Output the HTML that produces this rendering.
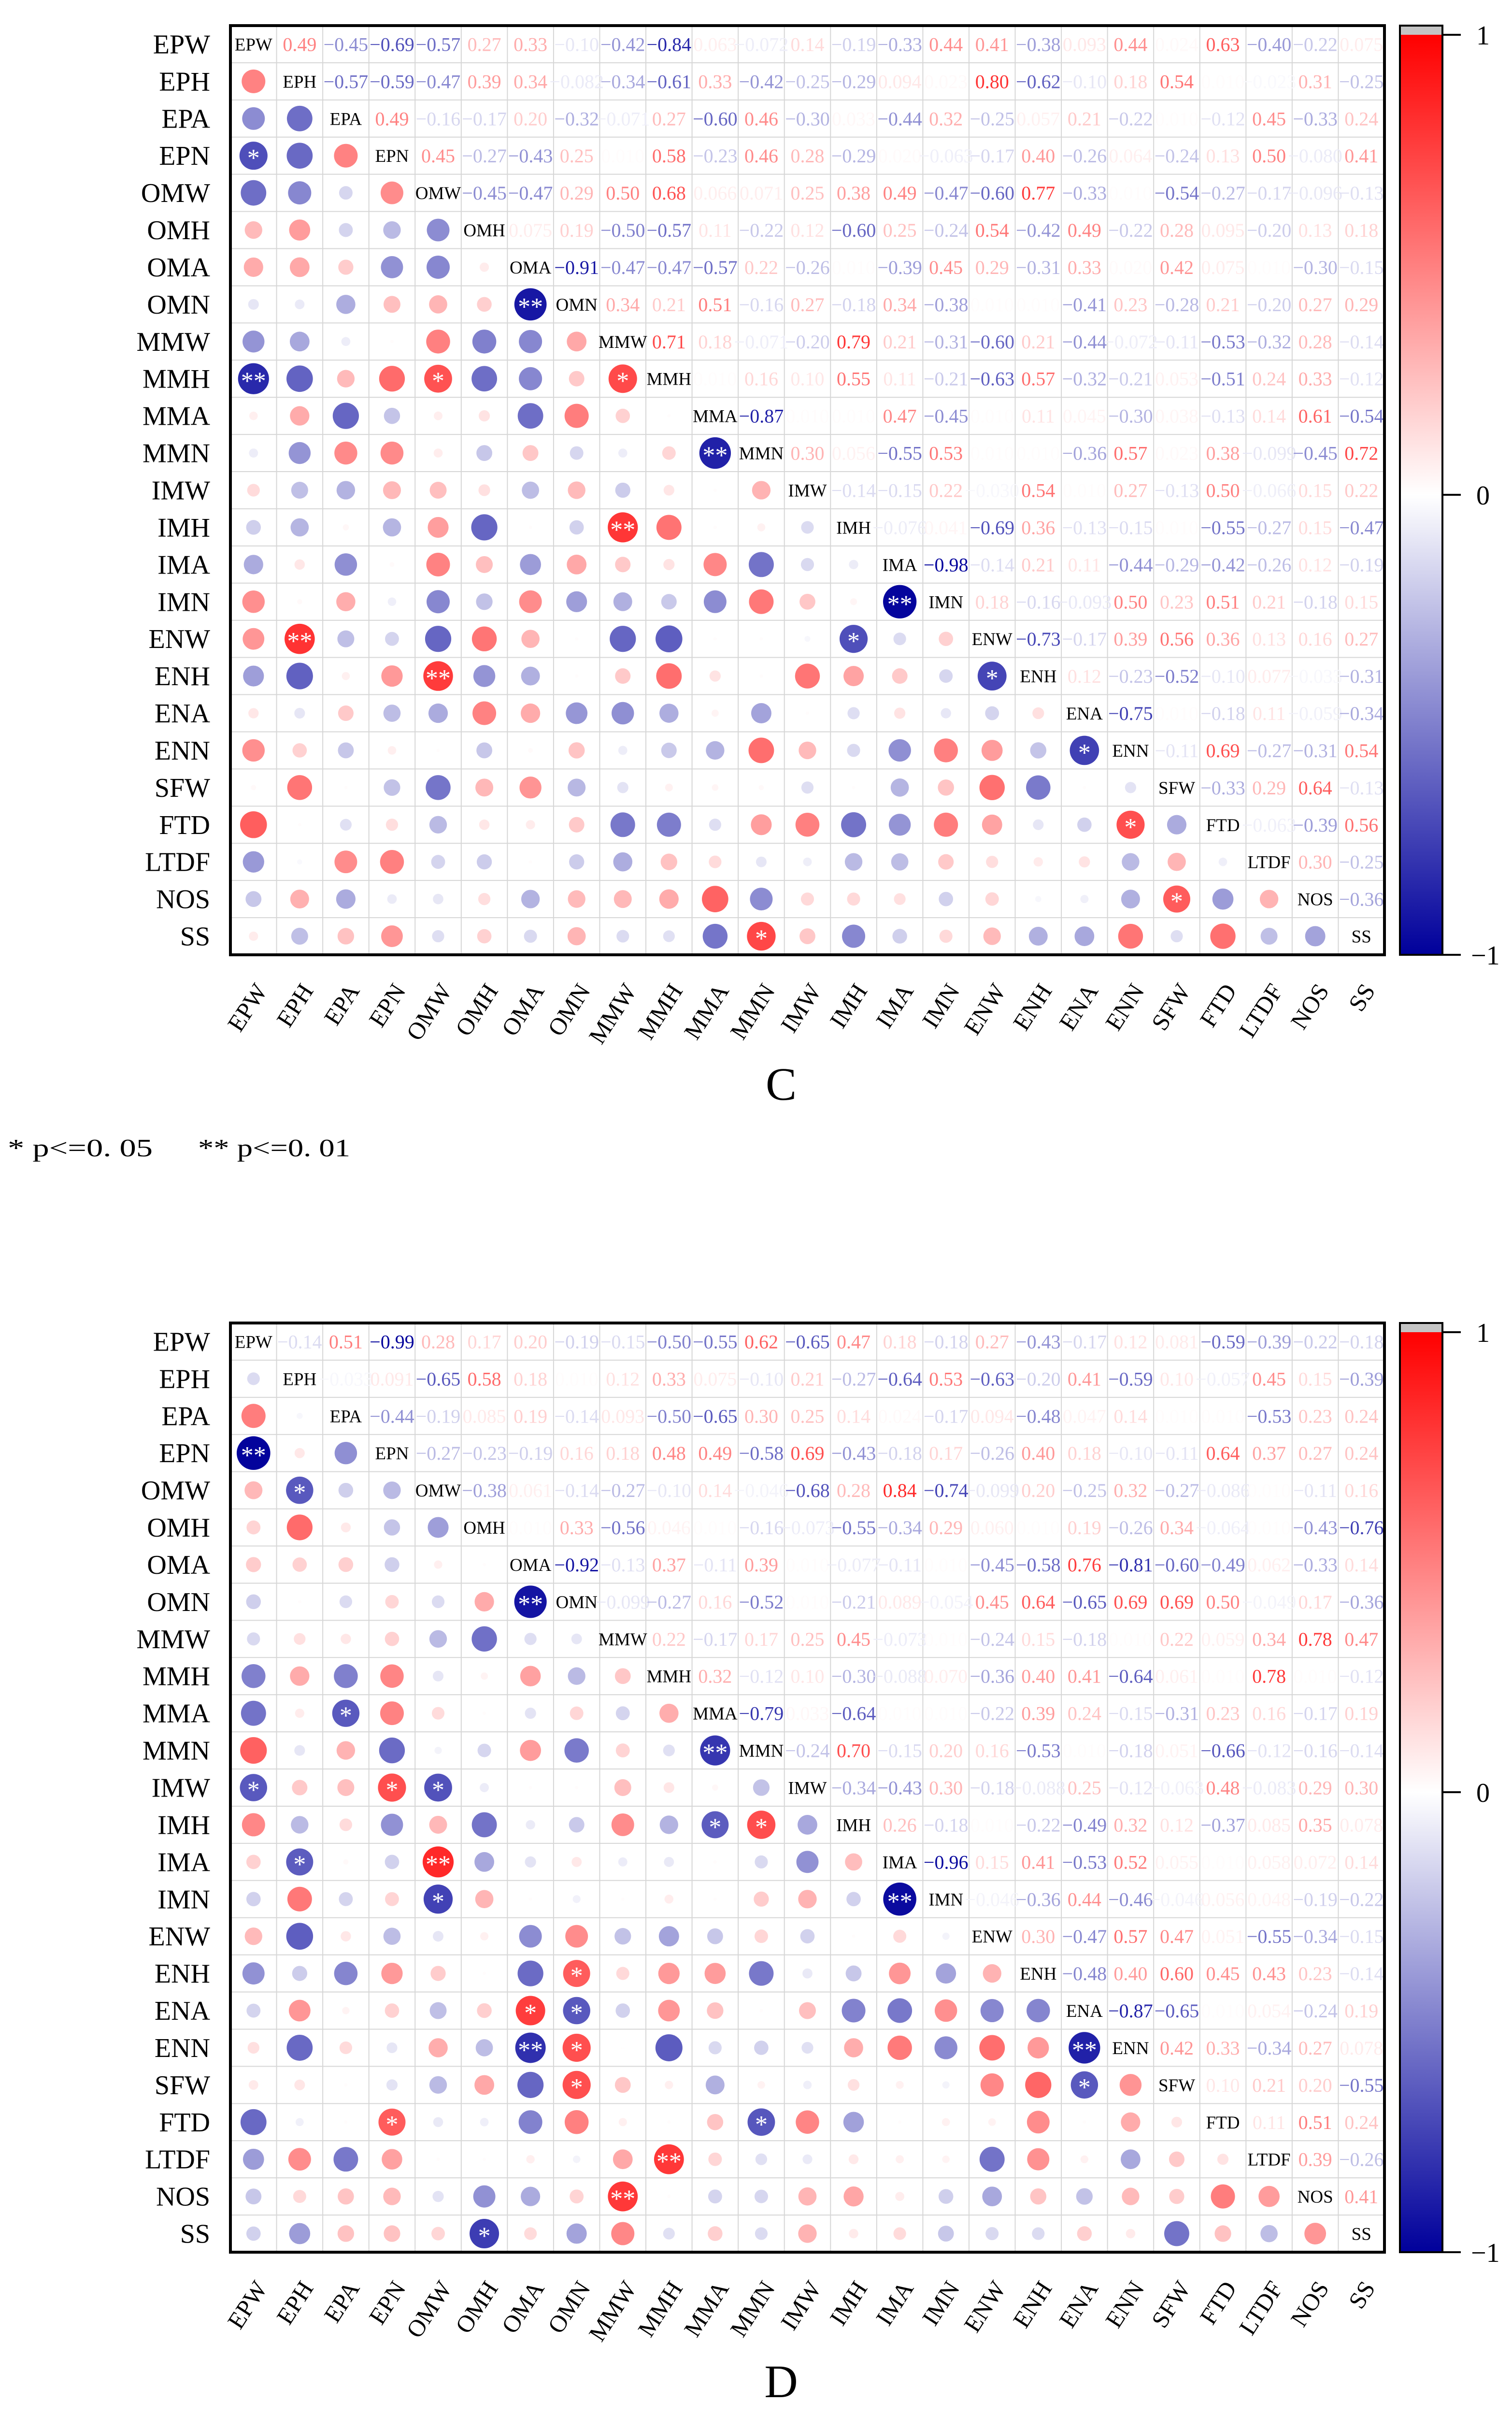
<!DOCTYPE html>
<html><head><meta charset="utf-8"><title>Correlation matrices C and D</title>
<style>html,body{margin:0;padding:0;background:#fff;width:3130px;height:5157px;overflow:hidden;}svg{display:block;}</style>
</head><body>
<svg id="fig" xmlns="http://www.w3.org/2000/svg" width="3130" height="5157" viewBox="0 0 3130 5157"></svg>
<script>
const labels = ["EPW","EPH","EPA","EPN","OMW","OMH","OMA","OMN","MMW","MMH","MMA","MMN","IMW","IMH","IMA","IMN","ENW","ENH","ENA","ENN","SFW","FTD","LTDF","NOS","SS"];
const upperC = [
[0.49,-0.45,-0.69,-0.57,0.27,0.33,-0.10,-0.42,-0.84,0.063,-0.072,0.14,-0.19,-0.33,0.44,0.41,-0.38,0.093,0.44,0.024,0.63,-0.40,-0.22,0.075],
[-0.57,-0.59,-0.47,0.39,0.34,-0.082,-0.34,-0.61,0.33,-0.42,-0.25,-0.29,0.094,0.023,0.80,-0.62,-0.10,0.18,0.54,0.01,-0.023,0.31,-0.25],
[0.49,-0.16,-0.17,0.20,-0.32,-0.071,0.27,-0.60,0.46,-0.30,0.033,-0.44,0.32,-0.25,0.057,0.21,-0.22,0.01,-0.12,0.45,-0.33,0.24],
[0.45,-0.27,-0.43,0.25,0.01,0.58,-0.23,0.46,0.28,-0.29,0.02,-0.063,-0.17,0.40,-0.26,0.064,-0.24,0.13,0.50,-0.080,0.41],
[-0.45,-0.47,0.29,0.50,0.68,0.066,0.071,0.25,0.38,0.49,-0.47,-0.60,0.77,-0.33,0.01,-0.54,-0.27,-0.17,-0.096,-0.13],
[0.075,0.19,-0.50,-0.57,0.11,-0.22,0.12,-0.60,0.25,-0.24,0.54,-0.42,0.49,-0.22,0.28,0.095,-0.20,0.13,0.18],
[-0.91,-0.47,-0.47,-0.57,0.22,-0.26,0.01,-0.39,0.45,0.29,-0.31,0.33,0.02,0.42,0.075,0.01,-0.30,-0.15],
[0.34,0.21,0.51,-0.16,0.27,-0.18,0.34,-0.38,0.01,0.01,-0.41,0.23,-0.28,0.21,-0.20,0.27,0.29],
[0.71,0.18,-0.071,-0.20,0.79,0.21,-0.31,-0.60,0.21,-0.44,-0.072,-0.11,-0.53,-0.32,0.28,-0.14],
[0.01,0.16,0.10,0.55,0.11,-0.21,-0.63,0.57,-0.32,-0.21,0.053,-0.51,0.24,0.33,-0.12],
[-0.87,0.01,0.01,0.47,-0.45,0.01,0.11,0.045,-0.30,0.038,-0.13,0.14,0.61,-0.54],
[0.30,0.056,-0.55,0.53,0.01,0.01,-0.36,0.57,0.023,0.38,-0.099,-0.45,0.72],
[-0.14,-0.15,0.22,-0.030,0.54,0.01,0.27,-0.13,0.50,-0.066,0.15,0.22],
[-0.076,0.041,-0.69,0.36,-0.13,-0.15,0.01,-0.55,-0.27,0.15,-0.47],
[-0.98,-0.14,0.21,0.11,-0.44,-0.29,-0.42,-0.26,0.12,-0.19],
[0.18,-0.16,-0.093,0.50,0.23,0.51,0.21,-0.18,0.15],
[-0.73,-0.17,0.39,0.56,0.36,0.13,0.16,0.27],
[0.12,-0.23,-0.52,-0.10,0.077,-0.033,-0.31],
[-0.75,0.01,-0.18,0.11,-0.059,-0.34],
[-0.11,0.69,-0.27,-0.31,0.54],
[-0.33,0.29,0.64,-0.13],
[-0.063,-0.39,0.56],
[0.30,-0.25],
[-0.36]
];
const upperD = [
[-0.14,0.51,-0.99,0.28,0.17,0.20,-0.19,-0.15,-0.50,-0.55,0.62,-0.65,0.47,0.18,-0.18,0.27,-0.43,-0.17,0.12,0.081,-0.59,-0.39,-0.22,-0.18],
[-0.033,0.091,-0.65,0.58,0.18,0.01,0.12,0.33,0.075,-0.10,0.21,-0.27,-0.64,0.53,-0.63,-0.20,0.41,-0.59,0.10,-0.057,0.45,0.15,-0.39],
[-0.44,-0.19,0.085,0.19,-0.14,0.093,-0.50,-0.65,0.30,0.25,0.14,0.024,-0.17,0.094,-0.48,0.047,0.14,0.01,0.01,-0.53,0.23,0.24],
[-0.27,-0.23,-0.19,0.16,0.18,0.48,0.49,-0.58,0.69,-0.43,-0.18,0.17,-0.26,0.40,0.18,-0.10,-0.11,0.64,0.37,0.27,0.24],
[-0.38,0.061,-0.14,-0.27,-0.100,0.14,-0.046,-0.68,0.28,0.84,-0.74,-0.099,0.20,-0.25,0.32,-0.27,-0.086,0.01,-0.11,0.16],
[0.01,0.33,-0.56,0.046,0.01,-0.16,-0.073,-0.55,-0.34,0.29,0.060,0.01,0.19,-0.26,0.34,-0.064,0.01,-0.43,-0.76],
[-0.92,-0.13,0.37,-0.11,0.39,0.01,-0.077,-0.11,0.01,-0.45,-0.58,0.76,-0.81,-0.60,-0.49,0.062,-0.33,0.14],
[-0.099,-0.27,0.16,-0.52,0.01,-0.21,0.089,-0.054,0.45,0.64,-0.65,0.69,0.69,0.50,-0.049,0.17,-0.36],
[0.22,-0.17,0.17,0.25,0.45,-0.073,0.01,-0.24,0.15,-0.18,0.01,0.22,0.059,0.34,0.78,0.47],
[0.32,-0.12,0.10,-0.30,-0.088,0.070,-0.36,0.40,0.41,-0.64,0.061,0.01,0.78,0.01,-0.12],
[-0.79,0.033,-0.64,0.01,0.01,-0.22,0.39,0.24,-0.15,-0.31,0.23,0.16,-0.17,0.19],
[-0.24,0.70,-0.15,0.20,0.16,-0.53,0.01,-0.18,0.051,-0.66,-0.12,-0.16,-0.14],
[-0.34,-0.43,0.30,-0.18,-0.088,0.25,-0.12,-0.063,0.48,-0.083,0.29,0.30],
[0.26,-0.18,0.01,-0.22,-0.49,0.32,0.12,-0.37,0.085,0.35,0.078],
[-0.96,0.15,0.41,-0.53,0.52,0.055,0.01,0.058,0.072,0.14],
[-0.046,-0.36,0.44,-0.46,-0.046,0.056,0.048,-0.19,-0.22],
[0.30,-0.47,0.57,0.47,0.051,-0.55,-0.34,-0.15],
[-0.48,0.40,0.60,0.45,0.43,0.23,-0.14],
[-0.87,-0.65,0.01,0.054,-0.24,0.19],
[0.42,0.33,-0.34,0.27,0.078],
[0.10,0.21,0.20,-0.55],
[0.11,0.51,0.24],
[0.39,-0.26],
[0.41]
];
const starsC = [[3,0,1],[7,6,2],[9,0,2],[9,4,1],[9,8,1],[11,10,2],[13,8,2],[15,14,2],[16,13,1],[16,1,2],[17,4,2],[17,16,1],[19,18,1],[21,19,1],[23,20,1],[24,11,1]];
const starsD = [[3,0,2],[4,1,1],[7,6,2],[10,2,1],[11,10,2],[12,0,1],[12,3,1],[12,4,1],[13,10,1],[13,11,1],[14,1,1],[14,4,2],[15,4,1],[15,14,2],[17,7,1],[18,6,1],[18,7,1],[19,6,2],[19,7,1],[19,8,1],[19,18,2],[20,7,1],[20,18,1],[21,3,1],[21,11,1],[22,9,2],[23,8,2],[24,5,1]];
const colorTicks = ["1","0","\u22121"];

const NS = "http://www.w3.org/2000/svg";
const svg = document.getElementById("fig");
const N = labels.length;
const X0 = 477, X1 = 2866;
const CW = (X1 - X0) / N;
const CH = 76.92;
const SERIF = '"Liberation Serif", "Noto Serif CJK SC", serif';

function mk(tag, attrs, parent) {
  const e = document.createElementNS(NS, tag);
  for (const k in attrs) e.setAttribute(k, attrs[k]);
  (parent || svg).appendChild(e);
  return e;
}
function col(v) {
  if (v >= 0) { const t = Math.round(255 * (1 - v)); return "rgb(255," + t + "," + t + ")"; }
  const a = -v; const t = Math.round(255 * (1 - a)); const b = Math.round(255 - 100 * a);
  return "rgb(" + t + "," + t + "," + b + ")";
}
function fmt(v) {
  const a = Math.abs(v);
  const s = a < 0.1 ? a.toFixed(3) : a.toFixed(2);
  return (v < 0 ? "\u2212" : "") + s;
}
function xC(j) { return X0 + (j + 0.5) * CW; }

function drawPanel(upper, stars, Y0, letter) {
  const g = mk("g", {});
  
  
  const Y1 = Y0 + N * CH;
  function yC(i) { return Y0 + (i + 0.5) * CH; }
  const M = [];
  for (let i = 0; i < N; i++) { M.push(new Array(N).fill(1)); }
  for (let i = 0; i < upper.length; i++) for (let k = 0; k < upper[i].length; k++) {
    const j = i + 1 + k; M[i][j] = upper[i][k]; M[j][i] = upper[i][k];
  }
  for (let k = 1; k < N; k++) {
    const gx = mk("line", {x1: X0 + k * CW, x2: X0 + k * CW, y1: Y0, y2: Y1, stroke: "#d6d6d6", "stroke-width": 2}, g);
    
    
    const gy = mk("line", {x1: X0, x2: X1, y1: Y0 + k * CH, y2: Y0 + k * CH, stroke: "#d6d6d6", "stroke-width": 2}, g);
    
    
  }
  const starMap = {};
  stars.forEach(s => { starMap[s[0] + "_" + s[1]] = s[2]; });
  for (let i = 0; i < N; i++) {
    for (let j = 0; j < N; j++) {
      const v = M[i][j];
      if (i === j) {
        const t = mk("text", {x: xC(j), y: yC(i) + 13, "text-anchor": "middle", "font-family": SERIF, "font-size": 37, fill: "#000"}, g);
        t.textContent = labels[i];
        
        
      } else if (j > i) {
        const t = mk("text", {x: xC(j), y: yC(i) + 14, "text-anchor": "middle", "font-family": SERIF, "font-size": 40, fill: col(v)}, g);
        t.textContent = fmt(v);
        
        
      } else {
        const r = 35 * Math.sqrt(Math.abs(v));
        const c = mk("circle", {cx: xC(j), cy: yC(i), r: r, fill: col(v)}, g);
        
        
        const lvl = starMap[i + "_" + j];
        if (lvl) {
          const st = mk("text", {x: xC(j), y: yC(i) + 22, "text-anchor": "middle", "font-family": SERIF, "font-size": 52, fill: "#fff"}, g);
          st.textContent = lvl === 2 ? "**" : "*";
          
          
        }
      }
    }
  }
  const fr = mk("rect", {x: X0, y: Y0, width: X1 - X0, height: Y1 - Y0, fill: "none", stroke: "#000", "stroke-width": 6}, g);
  
  
  for (let i = 0; i < N; i++) {
    const t = mk("text", {x: 435, y: yC(i) + 19, "text-anchor": "end", "font-family": SERIF, "font-size": 56, fill: "#000"}, g);
    t.textContent = labels[i];
    
    
  }
  for (let j = 0; j < N; j++) {
    const bx = xC(j) + 30, by = Y1 + 74;
    const t = mk("text", {x: bx, y: by, "text-anchor": "end", "font-family": SERIF, "font-size": 50, fill: "#000", transform: "rotate(-57 " + bx + " " + by + ")"}, g);
    t.textContent = labels[j];
    
    
  }
  const cbX = 2898, cbW = 88;
  const yTop = Y0 + 19, yBot = Y1;
  const gid = "grad" + letter;
  const defs = mk("defs", {}, g);
  const lg = mk("linearGradient", {id: gid, x1: 0, y1: 0, x2: 0, y2: 1}, defs);
  mk("stop", {offset: "0", "stop-color": "#ff0000"}, lg);
  mk("stop", {offset: "0.5", "stop-color": "#ffffff"}, lg);
  mk("stop", {offset: "1", "stop-color": "#00009b"}, lg);
  const cap = mk("rect", {x: cbX, y: Y0, width: cbW, height: yTop - Y0, fill: "#c4c4c4"}, g);
  
  
  const cb = mk("rect", {x: cbX, y: yTop, width: cbW, height: yBot - yTop, fill: "url(#" + gid + ")"}, g);
  
  
  const cbf = mk("rect", {x: cbX, y: Y0, width: cbW, height: yBot - Y0, fill: "none", stroke: "#000", "stroke-width": 4}, g);
  
  
  const tickY = [yTop, (yTop + yBot) / 2, yBot];
  for (let k = 0; k < 3; k++) {
    const tl = mk("line", {x1: cbX + cbW, x2: cbX + cbW + 38, y1: tickY[k], y2: tickY[k], stroke: "#000", "stroke-width": 4}, g);
    
    
    const tt = mk("text", {x: k === 2 ? 3045 : 3056, y: tickY[k] + 20, "font-family": SERIF, "font-size": 56, fill: "#000"}, g);
    tt.textContent = colorTicks[k];
    
    
  }
  const pl = mk("text", {x: 1617, y: Y0 + 2223, "text-anchor": "middle", "font-family": SERIF, "font-size": 96, fill: "#000"}, g);
  pl.textContent = letter;
  
  
  const f1 = mk("text", {x: 16, y: Y0 + 2340, "font-family": SERIF, "font-size": 52, fill: "#000", textLength: 300, lengthAdjust: "spacingAndGlyphs"}, g);
  f1.textContent = "* p<=0. 05";
  
  
  const f2 = mk("text", {x: 410, y: Y0 + 2340, "font-family": SERIF, "font-size": 52, fill: "#000", textLength: 315, lengthAdjust: "spacingAndGlyphs"}, g);
  f2.textContent = "** p<=0. 01";
  
  
}
drawPanel(upperC, starsC, 53, "C");
drawPanel(upperD, starsD, 2738, "D");
</script>
</body></html>
